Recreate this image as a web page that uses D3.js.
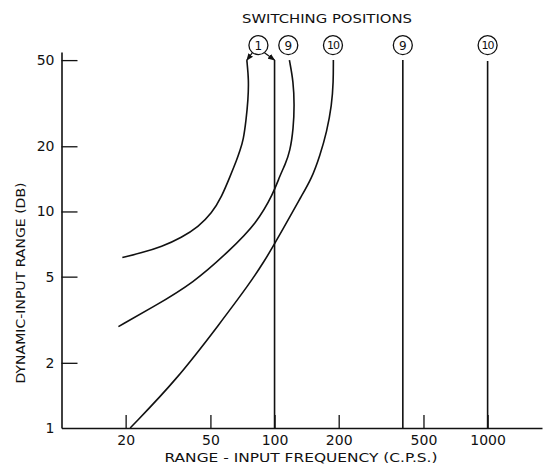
<!DOCTYPE html>
<html>
<head>
<meta charset="utf-8">
<script src="https://cdn.jsdelivr.net/npm/d3@7"></script>
<style>
  body { margin: 0; background: #fff; }
  text { font-family: "DejaVu Sans", sans-serif; fill: #111; }
</style>
</head>
<body>
<div id="chart"></div>
<script>
// values (frequency in c.p.s., range in db)
const xTicks = [20, 50, 100, 200, 500, 1000];
const yTicks = [1, 2, 5, 10, 20, 50];

const curve1 = [[19.3, 6.13], [23.8, 6.45], [29.5, 6.87], [36.7, 7.59], [43.9, 8.5], [50.7, 9.8],
    [56.5, 11.7], [61.8, 14.5], [66.5, 17.3], [68.9, 19.2], [71.4, 21.4], [73.5, 26.4],
    [75.1, 32.7], [75.7, 40.4], [74.1, 50]];
const curve9 = [[18.5, 2.94], [27, 3.63], [41.6, 4.67], [61.8, 6.63], [82.5, 8.84], [98.7, 12.1],
    [106.1, 14.7], [112, 16.4], [118.2, 18.9], [122.6, 24.2], [123.9, 31], [122.6, 39.7], [117.4, 50]];
const curve10 = [[21, 1], [34.7, 1.67], [55.5, 3.05], [76.7, 4.67], [90.2, 5.97], [98.7, 6.92],
    [120.4, 9.8], [131.8, 11.5], [149.5, 14.2], [163.5, 18.2], [175.8, 23.3], [185.6, 31],
    [188.8, 39.7], [188.8, 50]];

const verticalFreqs = [100, 400, 1000];
const verticalTops = [50, 50, 49.5];

const switchLabels = ["1", "9", "10", "9", "10"];
const switchFreqs = [84, 116, 188, 400, 1000];

const width = 543, height = 471;

const svg = d3.select("#chart").append("svg")
    .attr("width", width)
    .attr("height", height);

svg.append("defs").append("marker")
    .attr("id", "arrow")
    .attr("viewBox", "0 0 10 10")
    .attr("refX", 9)
    .attr("refY", 5)
    .attr("markerWidth", 6)
    .attr("markerHeight", 6)
    .attr("orient", "auto")
    .append("path")
    .attr("d", "M0,1 L10,5 L0,9 Z")
    .attr("fill", "#111");

const x = d3.scaleLog().domain([10, 1800]).range([61.5, 542]);
const y = d3.scaleLog().domain([1, 54.5]).range([428, 52]);

// x axis, ticks pointing up into the plot
const xAxis = svg.append("g")
    .attr("transform", `translate(0,${y(1)})`)
    .call(d3.axisBottom(x).tickValues(xTicks).tickFormat(d3.format("d"))
        .tickSizeInner(-13).tickSizeOuter(0).tickPadding(7));
xAxis.select(".domain").attr("stroke", "#111").attr("stroke-width", 1.6);
xAxis.selectAll(".tick line").attr("stroke", "#111").attr("stroke-width", 1.3);
xAxis.selectAll("text").style("font-size", "14px").attr("fill", "#111");

// y axis, ticks pointing right
const yAxis = svg.append("g")
    .attr("transform", `translate(${x(10)},0)`)
    .call(d3.axisLeft(y).tickValues(yTicks).tickFormat(d3.format("d"))
        .tickSizeInner(-16).tickSizeOuter(0).tickPadding(7));
yAxis.select(".domain").attr("stroke", "#111").attr("stroke-width", 1.6);
yAxis.selectAll(".tick line").attr("stroke", "#111").attr("stroke-width", 1.3)
    .filter(d => d === 1).remove();
yAxis.selectAll("text").style("font-size", "14px").attr("fill", "#111");

const line = d3.line()
    .x(d => x(d[0]))
    .y(d => y(d[1]))
    .curve(d3.curveBasis);

svg.append("g")
    .selectAll("path")
    .data([curve1, curve9, curve10])
    .enter().append("path")
    .attr("d", line)
    .attr("fill", "none")
    .attr("stroke", "#111")
    .attr("stroke-width", 1.6);

svg.append("g")
    .selectAll("line")
    .data(verticalFreqs)
    .enter().append("line")
    .attr("x1", d => x(d))
    .attr("x2", d => x(d))
    .attr("y1", y(1))
    .attr("y2", (d, i) => y(verticalTops[i]))
    .attr("stroke", "#111")
    .attr("stroke-width", 1.6);

// switching position markers
const labelY = y(58.6);
const labels = svg.append("g")
    .selectAll("g")
    .data(switchLabels)
    .enter().append("g")
    .attr("transform", (d, i) => `translate(${x(switchFreqs[i])},${labelY})`);

labels.append("circle")
    .attr("r", 9.5)
    .attr("fill", "#fff")
    .attr("stroke", "#111")
    .attr("stroke-width", 1.3);

labels.append("text")
    .attr("text-anchor", "middle")
    .attr("dy", "0.36em")
    .style("font-size", d => d.length > 1 ? "11px" : "12px")
    .attr("letter-spacing", d => d.length > 1 ? "-1px" : "0px")
    .text(d => d);

// arrows from circle 1 to its curve and to the 100 c.p.s. line
const c1 = x(switchFreqs[0]);
const arrowTargets = [curve1[curve1.length - 1], [100, 50]];
svg.append("g")
    .selectAll("line")
    .data(arrowTargets)
    .enter().append("line")
    .attr("x1", (d, i) => c1 + (i === 0 ? -6 : 6))
    .attr("y1", labelY + 7.5)
    .attr("x2", d => x(d[0]))
    .attr("y2", d => y(d[1]))
    .attr("stroke", "#111")
    .attr("stroke-width", 1.2)
    .attr("marker-end", "url(#arrow)");

svg.append("text")
    .attr("x", 327)
    .attr("y", 23)
    .attr("text-anchor", "middle")
    .style("font-size", "13px")
    .attr("textLength", 170)
    .attr("lengthAdjust", "spacingAndGlyphs")
    .text("SWITCHING POSITIONS");

svg.append("text")
    .attr("x", 301)
    .attr("y", 462)
    .attr("text-anchor", "middle")
    .style("font-size", "12px")
    .attr("textLength", 273)
    .attr("lengthAdjust", "spacingAndGlyphs")
    .text("RANGE - INPUT FREQUENCY (C.P.S.)");

svg.append("text")
    .attr("transform", "translate(25,283) rotate(-90)")
    .attr("text-anchor", "middle")
    .style("font-size", "12px")
    .attr("textLength", 201)
    .attr("lengthAdjust", "spacingAndGlyphs")
    .text("DYNAMIC-INPUT RANGE (DB)");
</script>
</body>
</html>
